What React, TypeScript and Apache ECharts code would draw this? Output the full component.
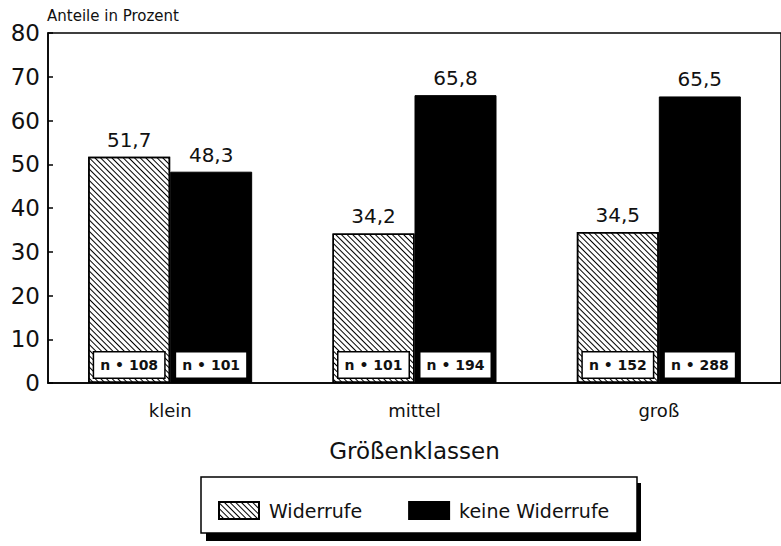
import React, { useEffect, useRef } from "react";
import * as echarts from "echarts";

const categories = ["klein", "mittel", "groß"];
const widerrufe = [51.7, 34.2, 34.5];
const keineWiderrufe = [48.3, 65.8, 65.5];
const nWiderrufe = ["n • 108", "n • 101", "n • 152"];
const nKeine = ["n • 101", "n • 194", "n • 288"];
const yTicks = [0, 10, 20, 30, 40, 50, 60, 70, 80];

const FONT = "DejaVu Sans";
const fmt = (v: number) => v.toFixed(1).replace(".", ",");

export default function App() {
  const ref = useRef<HTMLDivElement>(null);
  useEffect(() => {
    document.body.style.margin = "0";
    const chart = echarts.init(ref.current!, null, { renderer: "svg" });
    const nLabel = (offset: number) => ({
      show: true,
      position: "inside",
      offset: [offset, 0],
      formatter: (p: any) => p.data.n,
      backgroundColor: "#fff",
      borderColor: "#000",
      borderWidth: 1.5,
      width: 62,
      height: 20,
      lineHeight: 20,
      align: "center",
      padding: [3, 4, 2, 4],
      fontFamily: FONT,
      fontSize: 14,
      fontWeight: "bold",
      color: "#111",
      opacity: 1,
    });
    const valueLabel = {
      show: true,
      position: "top",
      distance: 7,
      formatter: (p: any) => fmt(p.value),
      fontSize: 20,
      color: "#111",
      fontFamily: FONT,
    };
    chart.setOption({
      animation: false,
      backgroundColor: "#fff",
      textStyle: { fontFamily: FONT },
      grid: {
        left: 48,
        top: 33,
        right: -2,
        bottom: 163,
        show: true,
        borderColor: "#000",
        borderWidth: 1.5,
        backgroundColor: "transparent",
      },
      xAxis: {
        type: "category",
        data: categories,
        axisLine: { lineStyle: { color: "#000", width: 1.5 } },
        axisTick: { show: false },
        axisLabel: { fontSize: 18, color: "#111", margin: 18, fontFamily: FONT },
        name: "Größenklassen",
        nameLocation: "middle",
        nameGap: 56,
        nameTextStyle: { fontSize: 23, color: "#111", fontFamily: FONT },
      },
      yAxis: {
        type: "value",
        min: yTicks[0],
        max: yTicks[yTicks.length - 1],
        interval: 10,
        splitLine: { show: false },
        axisLine: { show: true, lineStyle: { color: "#000", width: 1.5 } },
        axisTick: { show: true, inside: true, length: 5, lineStyle: { color: "#000", width: 1.5 } },
        axisLabel: { fontSize: 23, color: "#111", margin: 8, fontFamily: FONT },
      },
      legend: {
        data: [
          { name: "Widerrufe", icon: "rect" },
          { name: "keine Widerrufe", icon: "rect" },
        ],
        left: 213,
        top: 496,
        itemWidth: 40,
        itemHeight: 17,
        itemGap: 46,
        textStyle: { fontSize: 19, color: "#111", fontFamily: FONT, padding: [0, 0, 0, 5] },
      },
      graphic: [
        { type: "rect", shape: { x: 206, y: 483, width: 435, height: 58 }, style: { fill: "#000" }, z: 0 },
        { type: "rect", shape: { x: 201, y: 477, width: 436, height: 56 }, style: { fill: "#fff", stroke: "#000", lineWidth: 1.5 }, z: 1 },
        { type: "text", x: 47, y: 8, style: { text: "Anteile in Prozent", fontSize: 15, fill: "#111", fontFamily: FONT }, z: 5 },
      ],
      series: [
        {
          name: "Widerrufe",
          type: "bar",
          data: widerrufe,
          barWidth: 82,
          barGap: "0%",
          itemStyle: {
            color: "#fff",
            borderColor: "#000",
            borderWidth: 1.5,
            decal: {
              symbol: "rect",
              color: "#000",
              backgroundColor: "#fff",
              dashArrayX: [1, 0],
              dashArrayY: [1, 2.2],
              rotation: Math.PI / 4,
            },
          },
          label: valueLabel,
        },
        {
          name: "keine Widerrufe",
          type: "bar",
          data: keineWiderrufe,
          barWidth: 82,
          barGap: "0%",
          itemStyle: { color: "#000", borderColor: "#000", borderWidth: 1 },
          label: valueLabel,
        },
        {
          name: "nW",
          type: "scatter",
          symbolSize: 0,
          itemStyle: { opacity: 1 },
          data: categories.map((c, i) => ({ value: [c, 4.1], n: nWiderrufe[i] })),
          label: nLabel(-41),
          z: 10,
        },
        {
          name: "nK",
          type: "scatter",
          symbolSize: 0,
          itemStyle: { opacity: 1 },
          data: categories.map((c, i) => ({ value: [c, 4.1], n: nKeine[i] })),
          label: nLabel(41),
          z: 10,
        },
      ],
    });
    return () => chart.dispose();
  }, []);
  return <div ref={ref} style={{ width: 781, height: 546, position: "absolute", left: 0, top: 0 }} />;
}
